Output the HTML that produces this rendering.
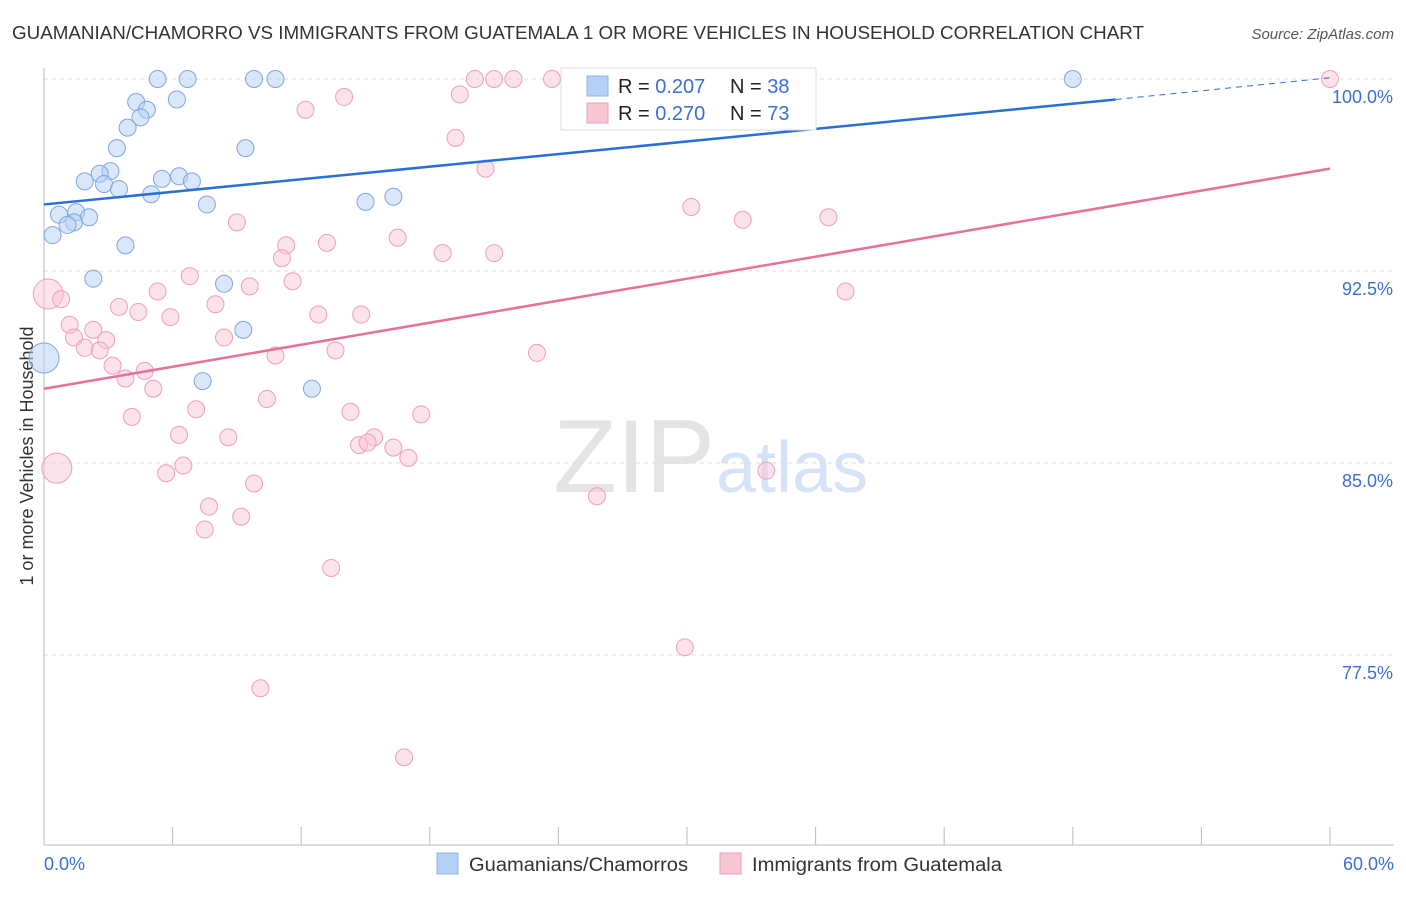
<!DOCTYPE html>
<html><head><meta charset="utf-8"><style>
body{margin:0;background:#fff;font-family:"Liberation Sans",sans-serif;}
svg text{font-family:"Liberation Sans",sans-serif;}
</style></head><body>
<svg id="chart" width="1406" height="892">
<text x="12" y="39" font-size="18" fill="#333" textLength="1132" lengthAdjust="spacingAndGlyphs">GUAMANIAN/CHAMORRO VS IMMIGRANTS FROM GUATEMALA 1 OR MORE VEHICLES IN HOUSEHOLD CORRELATION CHART</text>
<text x="1394" y="39" font-size="15" fill="#555" text-anchor="end" font-style="italic">Source: ZipAtlas.com</text>
<text transform="translate(33,456) rotate(-90)" font-size="18" fill="#333" text-anchor="middle">1 or more Vehicles in Household</text>
<text x="715" y="492" font-size="104" fill="#e4e4e4" text-anchor="end" font-family="Liberation Serif">ZIP</text>
<text x="716" y="492" font-size="72" fill="#d6e2f5">atlas</text>
<g id="grid"></g><g id="axes"></g><g id="marks"></g><g id="trends"></g>
<g>
<rect x="561" y="68" width="255" height="62" fill="#fff" stroke="#ddd"/>
<rect x="587" y="76" width="21" height="20" fill="#b6d0f5" stroke="#8fb3e8"/>
<text x="618" y="93" font-size="20" fill="#222">R = <tspan fill="#3b6fd0">0.207</tspan></text>
<text x="730" y="93" font-size="20" fill="#222">N = <tspan fill="#3b6fd0">38</tspan></text>
<rect x="587" y="103" width="21" height="20" fill="#f9c6d6" stroke="#eda0b8"/>
<text x="618" y="120" font-size="20" fill="#222">R = <tspan fill="#3b6fd0">0.270</tspan></text>
<text x="730" y="120" font-size="20" fill="#222">N = <tspan fill="#3b6fd0">73</tspan></text>
</g>
<g>
<rect x="437" y="853" width="21" height="21" fill="#b6d0f5" stroke="#8fb3e8"/>
<text x="469" y="871" font-size="19" fill="#333" textLength="219" lengthAdjust="spacingAndGlyphs">Guamanians/Chamorros</text>
<rect x="720" y="853" width="21" height="21" fill="#f9c6d6" stroke="#eda0b8"/>
<text x="752" y="871" font-size="19" fill="#333" textLength="250" lengthAdjust="spacingAndGlyphs">Immigrants from Guatemala</text>
</g>
</svg>
<script>
const yTicks=[100,92.5,85,77.5];
const yTickLabels=["100.0%","92.5%","85.0%","77.5%"];
const xTickLabels=["0.0%","60.0%"];
const blueX=[5.3,6.7,9.8,10.8,48.0,4.3,6.2,4.8,4.5,3.9,3.4,9.4,3.1,2.6,1.9,2.8,3.5,5.5,6.3,6.9,5.0,7.6,15.0,16.3,0.7,1.5,2.1,1.4,1.1,0.4,3.8,2.3,8.4,9.3,0.0,7.4,12.5];
const blueY=[100,100,100,100,100,99.1,99.2,98.8,98.5,98.1,97.3,97.3,96.4,96.3,96.0,95.9,95.7,96.1,96.2,96.0,95.5,95.1,95.2,95.4,94.7,94.8,94.6,94.4,94.3,93.9,93.5,92.2,92.0,90.2,89.1,88.2,87.9];
const blueBig=[34];
const pinkX=[20.1,21.0,21.9,23.7,60.0,12.2,14.0,19.4,19.2,20.6,30.2,32.6,36.6,9.0,11.3,13.2,16.5,11.1,18.6,21.0,6.8,11.6,9.6,37.4,0.2,0.8,5.3,3.5,8.0,4.4,5.9,12.8,14.8,1.2,2.3,1.4,2.9,8.4,1.9,2.6,10.8,13.6,23.0,3.2,4.7,3.8,5.1,10.4,7.1,14.3,17.6,4.1,6.3,8.6,15.4,14.7,15.1,16.3,17.0,0.6,6.5,5.7,33.7,9.8,25.8,7.7,9.2,7.5,13.4,29.9,10.1,16.8];
const pinkY=[100,100,100,100,100,98.8,99.3,99.4,97.7,96.5,95.0,94.5,94.6,94.4,93.5,93.6,93.8,93.0,93.2,93.2,92.3,92.1,91.9,91.7,91.6,91.4,91.7,91.1,91.2,90.9,90.7,90.8,90.8,90.4,90.2,89.9,89.8,89.9,89.5,89.4,89.2,89.4,89.3,88.8,88.6,88.3,87.9,87.5,87.1,87.0,86.9,86.8,86.1,86.0,86.0,85.7,85.8,85.6,85.2,84.8,84.9,84.6,84.7,84.2,83.7,83.3,82.9,82.4,80.9,77.8,76.2,73.5];
const pinkBig=[24,59];
const blueTrend=[[0,95.1],[50,99.2],[60,100.05]];
const pinkTrend=[[0,87.9],[60,96.5]];
const NS="http://www.w3.org/2000/svg";
const X=v=>44+v/60*1286;
const Y=v=>79+(100-v)*25.6;
function mk(tag,attrs,parent){const e=document.createElementNS(NS,tag);for(const k in attrs)e.setAttribute(k,attrs[k]);parent.appendChild(e);return e;}
const grid=document.getElementById('grid'),axes=document.getElementById('axes'),marks=document.getElementById('marks'),trends=document.getElementById('trends');
yTicks.forEach((t,i)=>{
 const l=mk('line',{x1:44,x2:1394,y1:Y(t),y2:Y(t),stroke:'#ddd','stroke-dasharray':'4,4'},grid);
 
 
 const tx=mk('text',{x:1393,y:Y(t)+24,'font-size':18,fill:'#3b6fd0','text-anchor':'end'},grid);
 tx.textContent=yTickLabels[i];
 
 
});
let a=mk('line',{x1:44,x2:44,y1:68,y2:845,stroke:'#bbb'},axes);


a=mk('line',{x1:44,x2:1394,y1:845,y2:845,stroke:'#bbb'},axes);


for(let i=0;i<=10;i++){
 const t=mk('line',{x1:X(i*6),x2:X(i*6),y1:827,y2:845,stroke:'#bbb'},axes);
 
 
}
[[0,'start',44],[60,'end',1394]].forEach((p,i)=>{
 const t=mk('text',{x:p[2],y:870,'font-size':18,fill:'#3b6fd0','text-anchor':p[1]},axes);
 t.textContent=xTickLabels[i];
 
 
});
function dots(xs,ys,big,fill,stroke,name){
 xs.forEach((x,i)=>{
  const r=big.includes(i)?15:8.5;
  const c=mk('circle',{cx:X(x),cy:Y(ys[i]),r:r,fill:fill,'fill-opacity':0.5,stroke:stroke,'stroke-width':1},marks);
  
  
 });
}
dots(pinkX,pinkY,pinkBig,'#f9c6d6','#eda0b8','pink-point');
dots(blueX,blueY,blueBig,'#b6d0f5','#7fa6e0','blue-point');
let t=mk('line',{x1:X(blueTrend[0][0]),y1:Y(blueTrend[0][1]),x2:X(blueTrend[1][0]),y2:Y(blueTrend[1][1]),stroke:'#2a6fd6','stroke-width':2.5},trends);


t=mk('line',{x1:X(blueTrend[1][0]),y1:Y(blueTrend[1][1]),x2:X(blueTrend[2][0]),y2:Y(blueTrend[2][1]),stroke:'#2a6fd6','stroke-width':1,'stroke-dasharray':'6,5'},trends);


t=mk('line',{x1:X(pinkTrend[0][0]),y1:Y(pinkTrend[0][1]),x2:X(pinkTrend[1][0]),y2:Y(pinkTrend[1][1]),stroke:'#e8709a','stroke-width':2.5},trends);


</script>
</body></html>
